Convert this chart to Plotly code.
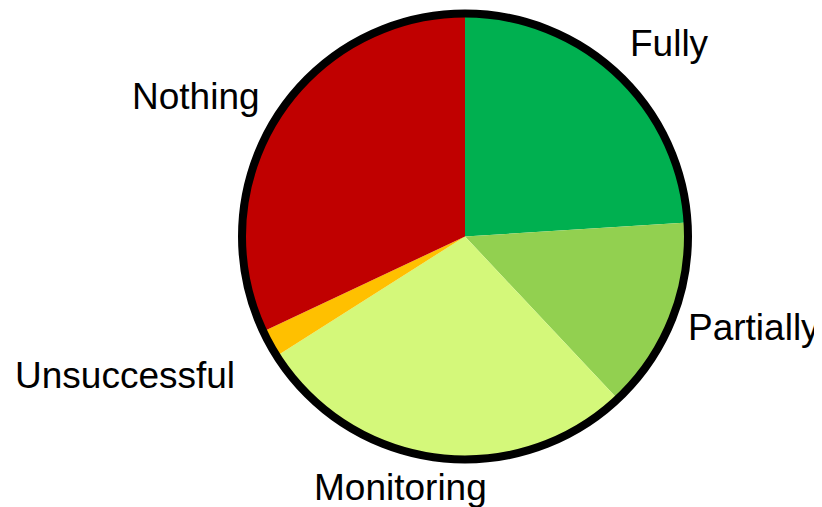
import plotly.graph_objects as go

categories = ["Fully", "Partially", "Monitoring", "Unsuccessful", "Nothing"]
values = [24, 14, 28, 2, 32]
colors = ["#00B050", "#92D050", "#D4F87A", "#FFC000", "#C00000"]

W, H = 814, 499  # page body has an 8px margin; figure fills the rest of the window
OFF = 8

# label centres, in window pixels
label_px = [669.5, 753.5, 400, 125, 196]
label_py = [43.5, 327.5, 487.5, 375.5, 96.5]
label_x = [(p - OFF) / W for p in label_px]
label_y = [1 - (p - OFF) / H for p in label_py]

cx, cy, r = 465 - OFF, 236.5 - OFF, 223
dom_x = [(cx - r) / W, (cx + r) / W]
dom_y = [(H - cy - r) / H, (H - cy + r) / H]

fig = go.Figure()
fig.add_trace(go.Pie(
    labels=categories, values=values, sort=False, direction="clockwise", rotation=0,
    marker=dict(colors=colors, line=dict(width=0)),
    textinfo="none", hoverinfo="label+value", showlegend=False,
    domain=dict(x=dom_x, y=dom_y),
))
fig.add_trace(go.Pie(
    labels=["outline"], values=[1], sort=False,
    marker=dict(colors=["rgba(0,0,0,0)"], line=dict(color="#000000", width=8)),
    textinfo="none", hoverinfo="skip", showlegend=False,
    domain=dict(x=dom_x, y=dom_y),
))

for name, lx, ly in zip(categories, label_x, label_y):
    fig.add_annotation(text=name, x=lx, y=ly, xref="paper", yref="paper",
                       xanchor="center", yanchor="middle", showarrow=False,
                       font=dict(family="Liberation Sans, Arial", size=37, color="#000000"))

fig.update_layout(
    width=W, height=H,
    margin=dict(l=0, r=0, t=0, b=0),
    paper_bgcolor="#FFFFFF", plot_bgcolor="#FFFFFF",
)
fig.write_html("out.html")
